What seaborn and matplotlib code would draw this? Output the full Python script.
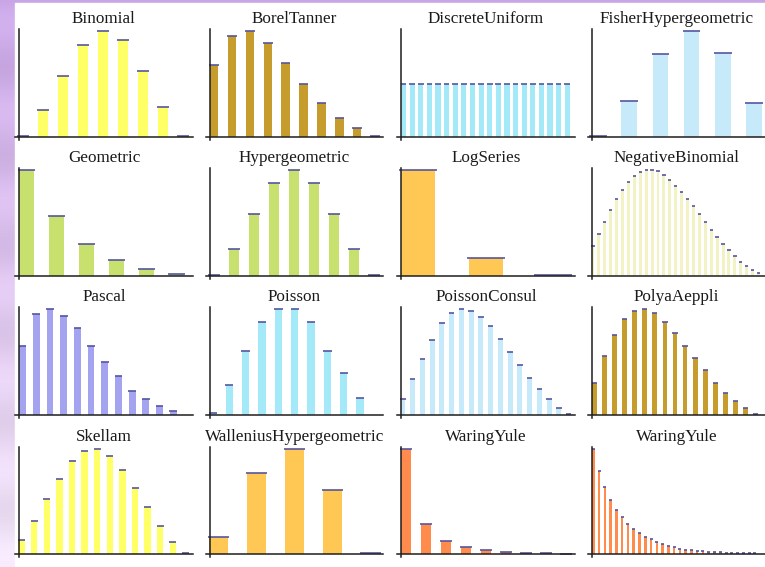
import numpy as np
import matplotlib
matplotlib.use("Agg")
import matplotlib.pyplot as plt
from matplotlib.patches import Rectangle
import seaborn as sns

# ------------------------------------------------------------
# Data (each series scaled to its peak)
# ------------------------------------------------------------
binomial = [0.005, 0.25, 0.57, 0.87, 1.0, 0.91, 0.62, 0.28, 0.005]
borel_tanner = [0.68, 0.95, 1.0, 0.89, 0.70, 0.50, 0.32, 0.18, 0.076, 0.006]
discrete_uniform = [0.5, 0.5, 0.5, 0.5, 0.5, 0.5, 0.5, 0.5, 0.5, 0.5,
                    0.5, 0.5, 0.5, 0.5, 0.5, 0.5, 0.5, 0.5, 0.5, 0.5]
fisher_hyper = [0.005, 0.34, 0.78, 1.0, 0.79, 0.32]

geometric = [1.0, 0.56, 0.30, 0.15, 0.06, 0.01]
hypergeometric = [0.005, 0.25, 0.58, 0.88, 1.0, 0.88, 0.58, 0.25, 0.005]
log_series = [1.0, 0.166, 0.008]
negative_binomial = [0.278, 0.394, 0.511, 0.621, 0.722, 0.811, 0.886, 0.946,
                     0.981, 1.0, 1.0, 0.987, 0.953, 0.905, 0.852, 0.792,
                     0.726, 0.656, 0.584, 0.505, 0.432, 0.363, 0.300, 0.240,
                     0.183, 0.132, 0.088, 0.050, 0.025]

pascal = [0.65, 0.95, 1.0, 0.93, 0.82, 0.65, 0.50, 0.37, 0.23, 0.155, 0.087, 0.04]
poisson = [0.02, 0.28, 0.60, 0.88, 1.0, 1.0, 0.875, 0.60, 0.40, 0.16]
poisson_consul = [0.151, 0.338, 0.530, 0.710, 0.864, 0.959, 1.0, 0.984, 0.927,
                  0.836, 0.719, 0.599, 0.470, 0.353, 0.246, 0.151, 0.069, 0.006]
polya_aeppli = [0.30, 0.552, 0.757, 0.905, 0.984, 1.0, 0.962, 0.877, 0.773,
                0.653, 0.536, 0.420, 0.306, 0.211, 0.132, 0.063, 0.006]

skellam = [0.133, 0.316, 0.522, 0.718, 0.883, 0.981, 1.0, 0.937, 0.804,
           0.630, 0.443, 0.269, 0.114, 0.006]
wallenius_hyper = [0.158, 0.775, 1.0, 0.608, 0.006]
waring_yule_a = [1.0, 0.282, 0.127, 0.066, 0.038, 0.022, 0.013, 0.006, 0.004]
waring_yule_b = [1.0, 0.795, 0.637, 0.517, 0.423, 0.353, 0.290, 0.237, 0.196,
                 0.164, 0.139, 0.114, 0.095, 0.079, 0.063, 0.050, 0.041, 0.035,
                 0.030, 0.026, 0.022, 0.019, 0.016, 0.014, 0.012, 0.010, 0.009,
                 0.008, 0.007]

# panel: (title, values, colour, bar width, spine x, right x)
panels = [
    ("Binomial", binomial, "#ffff66", 0.52, -0.2, 8.5),
    ("BorelTanner", borel_tanner, "#c69c2c", 0.47, -0.23, 9.44),
    ("DiscreteUniform", discrete_uniform, "#a3e9f7", 0.6, -0.3, 19.9),
    ("FisherHypergeometric", fisher_hyper, "#c6eaf9", 0.5, -0.19, 5.35),
    ("Geometric", geometric, "#c8e06e", 0.5, -0.25, 5.55),
    ("Hypergeometric", hypergeometric, "#c8e06e", 0.5, -0.2, 8.45),
    ("LogSeries", log_series, "#ffc855", 0.5, -0.25, 2.32),
    ("NegativeBinomial", negative_binomial, "#f2f2c4", 0.5, -0.17, 29.1),
    ("Pascal", pascal, "#a3a3f0", 0.5, -0.26, 12.44),
    ("Poisson", poisson, "#a3e9f7", 0.45, -0.18, 10.4),
    ("PoissonConsul", poisson_consul, "#c6eaf9", 0.5, -0.2, 17.66),
    ("PolyaAeppli", polya_aeppli, "#c69c2c", 0.47, -0.23, 16.93),
    ("Skellam", skellam, "#ffff66", 0.5, -0.21, 13.6),
    ("WalleniusHypergeometric", wallenius_hyper, "#ffc855", 0.5, -0.22, 4.33),
    ("WaringYule", waring_yule_a, "#ff8c4d", 0.5, -0.25, 8.45),
    ("WaringYule", waring_yule_b, "#ff8c4d", 0.45, -0.23, 29.75),
]

CAP = "#55559f"
W, H = 765, 567

sns.set_style("white")
fig = plt.figure(figsize=(W / 100, H / 100), dpi=100)

# slide-like background: lavender strip on the left / top, white card on it
bg = fig.add_axes([0, 0, 1, 1])
t = np.linspace(0, 1, 256)[:, None]
top_c = np.array([0.79, 0.65, 0.90])
bot_c = np.array([0.95, 0.90, 0.97])
streak = 0.03 * np.sin(np.linspace(0, 40, 256))[:, None]
grad = (top_c * (1 - t) + bot_c * t + streak).clip(0, 1)
bg.imshow(grad[:, None, :].repeat(4, axis=1), aspect="auto",
          extent=[0, 1, 0, 1], origin="upper")
bg.add_patch(Rectangle((15 / W, 0), 1, 1 - 3 / H, color="white"))
bg.set_xlim(0, 1)
bg.set_ylim(0, 1)
bg.axis("off")

col_spine = [19, 210, 401, 592]
col_right = [193, 383, 575, 765]
row_top = [29, 168, 307, 447]
row_base = [136.5, 275.5, 415, 554]

for i, (title, vals, color, bw, spine_x, right_x) in enumerate(panels):
    r, c = divmod(i, 4)
    left_px = col_spine[c] - 4
    bottom_px = row_base[r] + 3
    ax = fig.add_axes([left_px / W, 1 - bottom_px / H,
                       (col_right[c] - left_px) / W,
                       (bottom_px - row_top[r]) / H])

    idx = np.arange(len(vals))
    sns.barplot(x=idx, y=vals, ax=ax, color=color, width=bw, saturation=1,
                native_scale=True, linewidth=0, errorbar=None)
    ax.hlines(vals, idx - bw / 2 - 0.03, idx + bw / 2 + 0.03,
              colors=CAP, lw=1.4, alpha=0.85, zorder=3)

    dpp = (right_x - spine_x) / (col_right[c] - col_spine[c])
    ax.set_xlim(spine_x - 4 * dpp, right_x)
    hpx = row_base[r] - row_top[r]
    ax.set_ylim(-3 / (hpx - 2), hpx / (hpx - 2))

    for side in ("top", "right"):
        ax.spines[side].set_visible(False)
    ax.spines["left"].set_position(("data", spine_x))
    ax.spines["bottom"].set_position(("data", 0))
    for side in ("left", "bottom"):
        ax.spines[side].set_color("#1e1e1e")
        ax.spines[side].set_linewidth(1.1)
        ax.spines[side].set_zorder(4)
    ax.set_xticks([])
    ax.set_yticks([])
    ax.set_xlabel("")
    ax.set_ylabel("")
    ax.patch.set_alpha(0)
    ax.set_title(title, family="Liberation Serif", fontsize=12.3,
                 color="#1a1a1a", pad=4)

fig.savefig("out.png", dpi=100)
